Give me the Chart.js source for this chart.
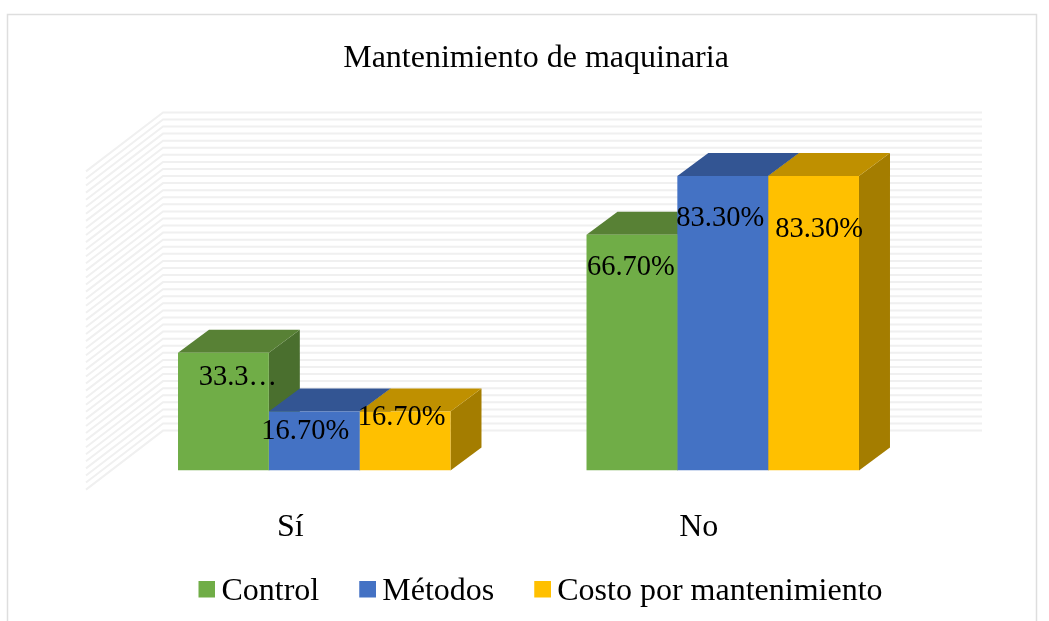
<!DOCTYPE html>
<html>
<head>
<meta charset="utf-8">
<style>html,body{margin:0;padding:0;background:#fff}canvas{display:block}</style>
<script src="https://cdn.jsdelivr.net/npm/chart.js@4"></script>
</head>
<body>
<canvas id="c" width="1049" height="621"></canvas>
<script>
const categories = ['Sí', 'No'];
const seriesNames = ['Control', 'Métodos', 'Costo por mantenimiento'];
const control = [33.3, 66.7];
const metodos = [16.7, 83.3];
const costo = [16.7, 83.3];
const controlLabels = ['33.3…', '66.70%'];
const metodosLabels = ['16.70%', '83.30%'];
const costoLabels = ['16.70%', '83.30%'];

const FONT = '"Liberation Serif", serif';
const front = ['#70AD47', '#4472C4', '#FFC000'];
const topFace = ['#588135', '#335593', '#BF9000'];
const sideFace = ['#4A6F2E', '#2D4A80', '#A47D00'];
const labelSets = [controlLabels, metodosLabels, costoLabels];
const labelOffsets = [[[14.5, 24.5], [-1, 33]], [[-9, 20], [-2.5, 42]], [[-3.5, 6], [5.5, 53]]];
const BAR_DEPTH = {x: 31, y: -23};
const WALL = {left: 163, right: 982, drop: -40, sideX: -77, sideY: 59};

function swatch(color) {
  const cv = document.createElement('canvas');
  cv.width = 27; cv.height = 23;
  const g = cv.getContext('2d');
  g.fillStyle = color;
  g.fillRect(10, 0, 17, 17);
  return cv;
}

const scene3d = {
  id: 'scene3d',
  afterLayout(chart) {
    const t = chart.titleBlock, l = chart.legend, x = chart.scales.x;
    t.left += 17.5; t.right += 17.5;
    l.left += 22; l.right += 22;
    l.top -= 3; l.bottom -= 3;
    x.bottom += 60;
  },
  beforeDraw(chart) {
    const ctx = chart.ctx;
    ctx.save();
    ctx.strokeStyle = '#DEDEDE';
    ctx.lineWidth = 1.5;
    ctx.strokeRect(7.5, 14.5, 1029, 700);
    ctx.restore();
  },
  beforeDatasetsDraw(chart) {
    const ctx = chart.ctx, y = chart.scales.y;
    ctx.save();
    ctx.strokeStyle = '#F0F0F0';
    ctx.lineWidth = 2;
    y.ticks.forEach(t => {
      const py = y.getPixelForValue(t.value) + WALL.drop;
      ctx.beginPath();
      ctx.moveTo(WALL.right, py);
      ctx.lineTo(WALL.left, py);
      ctx.lineTo(WALL.left + WALL.sideX, py + WALL.sideY);
      ctx.stroke();
    });
    chart.data.datasets.forEach((ds, i) => {
      chart.getDatasetMeta(i).data.forEach(bar => {
        const p = bar.getProps(['x', 'y', 'base', 'width'], true);
        const l = p.x - p.width / 2, r = p.x + p.width / 2;
        const dx = BAR_DEPTH.x, dy = BAR_DEPTH.y;
        ctx.fillStyle = sideFace[i];
        ctx.beginPath();
        ctx.moveTo(r, p.y); ctx.lineTo(r + dx, p.y + dy);
        ctx.lineTo(r + dx, p.base + dy); ctx.lineTo(r, p.base);
        ctx.closePath(); ctx.fill();
        ctx.fillStyle = topFace[i];
        ctx.beginPath();
        ctx.moveTo(l, p.y); ctx.lineTo(l + dx, p.y + dy);
        ctx.lineTo(r + dx, p.y + dy); ctx.lineTo(r, p.y);
        ctx.closePath(); ctx.fill();
      });
    });
    ctx.restore();
  },
  afterDatasetsDraw(chart) {
    const ctx = chart.ctx;
    ctx.save();
    ctx.fillStyle = '#000';
    ctx.font = '28.5px ' + FONT;
    ctx.textAlign = 'center';
    ctx.textBaseline = 'middle';
    chart.data.datasets.forEach((ds, i) => {
      chart.getDatasetMeta(i).data.forEach((bar, j) => {
        const p = bar.getProps(['x', 'y'], true);
        const o = labelOffsets[i][j];
        ctx.fillText(labelSets[i][j], p.x + o[0], p.y + o[1]);
      });
    });
    ctx.restore();
  }
};

new Chart(document.getElementById('c'), {
  type: 'bar',
  data: {
    labels: categories,
    datasets: [
      {label: seriesNames[0], data: control, backgroundColor: front[0]},
      {label: seriesNames[1], data: metodos, backgroundColor: front[1]},
      {label: seriesNames[2], data: costo, backgroundColor: front[2]}
    ]
  },
  plugins: [scene3d],
  options: {
    responsive: false,
    animation: false,
    categoryPercentage: 0.667,
    barPercentage: 1,
    layout: {padding: {left: 110, right: 122, top: 0, bottom: 0}},
    plugins: {
      tooltip: {enabled: false},
      title: {
        display: true,
        text: 'Mantenimiento de maquinaria',
        color: '#000',
        font: {family: FONT, size: 32, weight: 'normal'},
        padding: {top: 39, bottom: 75}
      },
      legend: {
        display: true,
        position: 'bottom',
        labels: {
          color: '#000',
          font: {family: FONT, size: 32},
          usePointStyle: true,
          boxWidth: 7,
          boxHeight: 17,
          padding: 40,
          generateLabels(chart) {
            return Chart.defaults.plugins.legend.labels.generateLabels(chart).map(it => {
              it.pointStyle = swatch(it.fillStyle);
              return it;
            });
          }
        }
      }
    },
    scales: {
      x: {
        grid: {display: false},
        border: {display: false},
        afterFit(s) { s.height -= 38; },
        ticks: {color: '#000', font: {family: FONT, size: 32}, padding: 30, labelOffset: -24, maxRotation: 0}
      },
      y: {
        display: false,
        min: 0,
        max: 90,
        ticks: {stepSize: 2, autoSkip: false}
      }
    }
  }
});
</script>
</body>
</html>
